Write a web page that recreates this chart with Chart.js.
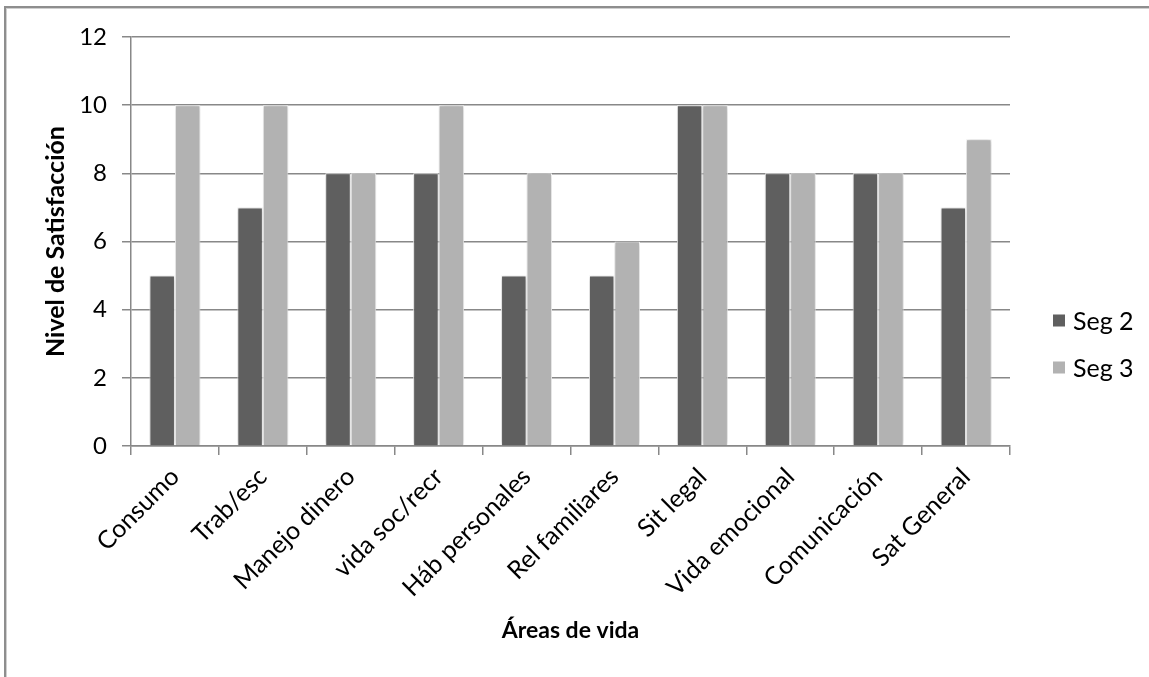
<!DOCTYPE html>
<html lang="es">
<head>
<meta charset="utf-8">
<title>Nivel de Satisfacción por áreas de vida</title>
<script src="https://cdn.jsdelivr.net/npm/chart.js@4.4.1/dist/chart.umd.min.js"></script>
<style>
  html, body { margin: 0; padding: 0; background: #fff; overflow: hidden; }
  #wrap { position: relative; width: 1149px; height: 677px; }
  #frame {
    position: absolute; left: 4px; top: 6px; width: 1400px; height: 900px;
    border-left: 2px solid #8e8e8e; border-top: 2px solid #8e8e8e;
    box-shadow: inset 1px 1px 0 #cfcfcf; pointer-events: none;
  }
  canvas { position: absolute; left: 0; top: 0; }
</style>
</head>
<body>
<div id="wrap">
  <canvas id="chart" width="1149" height="677"></canvas>
  <div id="frame"></div>
</div>
<script>
// Áreas de vida evaluadas
const categories = ['Consumo', 'Trab/esc', 'Manejo dinero', 'vida soc/recr', 'Háb personales',
                    'Rel familiares', 'Sit legal', 'Vida emocional', 'Comunicación', 'Sat General'];
// Nivel de satisfacción por seguimiento
const seg2 = [5, 7, 8, 8, 5, 5, 10, 8, 8, 7];
const seg3 = [10, 10, 8, 10, 8, 6, 10, 8, 8, 9];
const seriesNames = ['Seg 2', 'Seg 3'];
const yTicks = [0, 2, 4, 6, 8, 10, 12];

const FONT = 'Lato, "Open Sans", sans-serif';
const GRID = '#888888';

// soft drop shadow behind the bars
const barShadow = {
  id: 'barShadow',
  beforeDatasetsDraw(chart) {
    const ctx = chart.ctx;
    ctx.save();
    ctx.shadowColor = 'rgba(0,0,0,0.28)';
    ctx.shadowBlur = 5;
    ctx.shadowOffsetX = 0;
    ctx.shadowOffsetY = 0;
  },
  afterDatasetsDraw(chart) { chart.ctx.restore(); }
};

// legend on the right side of the plot
const sideLegend = {
  id: 'sideLegend',
  afterDraw(chart) {
    const ctx = chart.ctx;
    const ds = chart.data.datasets;
    const gap = 47;
    const cy0 = chart.height / 2 - 18;
    ctx.save();
    ctx.font = '25px ' + FONT;
    ctx.textBaseline = 'middle';
    ctx.textAlign = 'left';
    ds.forEach((d, i) => {
      const cy = cy0 + i * gap;
      const x = chart.chartArea.right + 43;
      ctx.fillStyle = d.backgroundColor;
      ctx.fillRect(x, cy - 6, 12, 12);
      ctx.fillStyle = '#000';
      ctx.fillText(d.label, x + 20, cy + 1);
    });
    ctx.restore();
  }
};

new Chart(document.getElementById('chart'), {
  type: 'bar',
  data: {
    labels: categories,
    datasets: [
      { label: seriesNames[0], data: seg2, backgroundColor: '#5f5f5f' },
      { label: seriesNames[1], data: seg3, backgroundColor: '#b2b2b2' }
    ]
  },
  options: {
    responsive: false,
    animation: false,
    devicePixelRatio: 1,
    layout: { padding: { left: 0, right: 139, top: 37, bottom: 0 } },
    datasets: {
      bar: {
        categoryPercentage: 0.58,
        barPercentage: 1.0,
        borderColor: '#ffffff',
        borderWidth: 1
      }
    },
    plugins: {
      legend: { display: false },
      tooltip: { enabled: false },
      title: { display: false }
    },
    scales: {
      x: {
        afterFit(scale) { scale.height = 231; },
        grid: {
          display: true,
          drawOnChartArea: false,
          drawTicks: true,
          tickLength: 9,
          color: GRID,
          lineWidth: 1.5
        },
        border: { display: true, color: GRID, width: 1.5 },
        ticks: {
          autoSkip: false,
          maxRotation: 45,
          minRotation: 45,
          padding: 7,
          color: '#000',
          font: { family: FONT, size: 25 }
        },
        title: {
          display: true,
          text: 'Áreas de vida',
          color: '#000',
          font: { family: FONT, size: 23, weight: 'bold' },
          padding: { top: 33, bottom: 33 }
        }
      },
      y: {
        min: 0,
        max: 12,
        afterFit(scale) { scale.width = 131; },
        afterBuildTicks(scale) { scale.ticks = yTicks.map(v => ({ value: v })); },
        grid: {
          color: GRID,
          lineWidth: 1.5,
          tickLength: 9
        },
        border: { display: true, color: GRID, width: 1.5 },
        ticks: {
          padding: 15,
          color: '#000',
          font: { family: FONT, size: 24 }
        },
        title: {
          display: true,
          text: 'Nivel de Satisfacción',
          color: '#000',
          font: { family: FONT, size: 25, weight: 'bold' },
          padding: { top: 41, bottom: 41 }
        }
      }
    }
  },
  plugins: [barShadow, sideLegend]
});
</script>
</body>
</html>
